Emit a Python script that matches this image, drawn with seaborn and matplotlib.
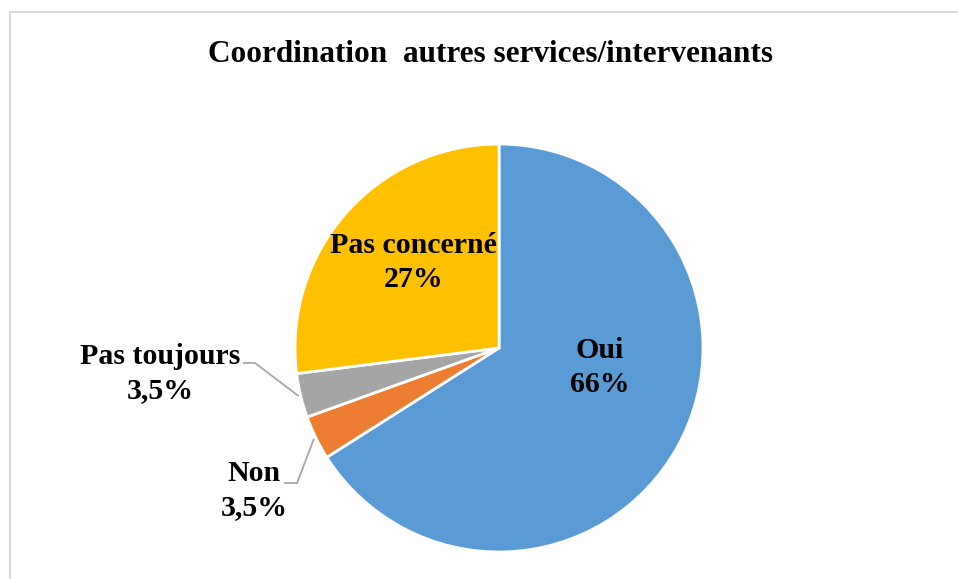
import numpy as np
import seaborn as sns
import matplotlib.pyplot as plt
from matplotlib.patches import Rectangle

# data
categories = ["Oui", "Non", "Pas toujours", "Pas concerné"]
values = [66, 3.5, 3.5, 27]
pct_labels = ["66%", "3,5%", "3,5%", "27%"]
colors = ["#5B9BD5", "#ED7D31", "#A5A5A5", "#FFC000"]

sns.set_theme(style="white")
plt.rcParams['font.family'] = ['Liberation Serif', 'DejaVu Serif']
plt.rcParams['font.weight'] = 'bold'

fig = plt.figure(figsize=(9.58, 5.79), dpi=100)
ax = fig.add_axes([0, 0, 1, 1])

# pie centre at pixel (499, 348), radius 204 px
R = 204.0
wedges, _ = ax.pie(values, colors=colors, startangle=90, counterclock=False,
                   radius=1.0, center=(0, 0), frame=True,
                   wedgeprops=dict(edgecolor='white', linewidth=2))
ax.set_xlim(-499 / R, (958 - 499) / R)
ax.set_ylim(-(579 - 348) / R, 348 / R)
ax.set_aspect('auto')
ax.axis('off')

fs = 21.5
ls = 1.32
# labels inside the big slices
inside = {0: (0.495, -0.095), 3: (-0.42, 0.42)}
for i, (x, y) in inside.items():
    ax.text(x, y, categories[i] + "\n" + pct_labels[i], ha='center', va='center',
            fontsize=fs, fontweight='bold', linespacing=ls, color='black')

# small slices: outside labels with leader lines
outside = {2: ((-1.662, -0.125), (-1.255, -0.0735), (-1.196, -0.0735)),
           1: ((-1.201, -0.70), (-1.054, -0.662), (-0.990, -0.662))}
for i, (txt, p0, p1) in outside.items():
    w = wedges[i]
    mid = np.deg2rad((w.theta1 + w.theta2) / 2)
    end = (1.01 * np.cos(mid), 1.01 * np.sin(mid))
    ax.plot([p0[0], p1[0], end[0]], [p0[1], p1[1], end[1]],
            color='#A6A6A6', linewidth=1.3, solid_capstyle='butt')
    ax.text(txt[0], txt[1], categories[i] + "\n" + pct_labels[i], ha='center', va='center',
            fontsize=fs, fontweight='bold', linespacing=ls, color='black')

fig.text(491 / 958, 1 - 55 / 579, "Coordination  autres services/intervenants",
         ha='center', va='center', fontsize=22.5, fontweight='bold', color='black')

# chart frame (only top and left visible in the crop)
fig.patches.append(Rectangle((9.5 / 958, -0.05), 1.2, 1 - 11.5 / 579 + 0.05,
                             transform=fig.transFigure, fill=False,
                             edgecolor='#D9D9D9', linewidth=1.5))

fig.savefig("out.png", dpi=100)
